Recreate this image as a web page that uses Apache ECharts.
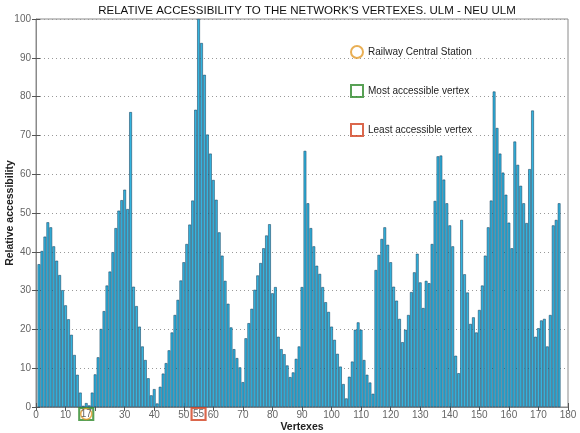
<!DOCTYPE html>
<html>
<head>
<meta charset="utf-8">
<script src="https://cdn.jsdelivr.net/npm/echarts@6/dist/echarts.min.js"></script>
<style>
  html, body { margin: 0; padding: 0; background: #fff; }
  #main { width: 580px; height: 433px; }
</style>
</head>
<body>
<div id="main"></div>
<script>
// relative accessibility of each vertex, vertex 1 .. 177
var accessibility = [
    36.8, 40.2, 43.9, 47.6, 46.3, 41.4, 37.7, 34.0, 30.1, 26.2,
    22.6, 18.6, 13.4, 8.3, 3.7, 0.3, 1.0, 0.4, 3.7, 8.4,
    12.8, 20.1, 24.7, 31.3, 34.9, 39.9, 46.1, 50.6, 53.3, 56.0,
    51.0, 76.0, 31.0, 26.0, 20.7, 15.6, 12.1, 7.4, 3.0, 4.6,
    0.9, 5.2, 8.6, 11.3, 14.6, 19.2, 23.7, 27.6, 32.6, 37.3,
    42.0, 47.0, 53.2, 76.6, 100.0, 93.8, 85.6, 70.2, 65.3, 58.5,
    53.4, 45.0, 39.0, 32.5, 26.6, 20.5, 14.9, 12.6, 10.2, 6.4,
    17.7, 21.6, 25.3, 30.2, 33.9, 37.1, 40.9, 44.2, 47.1, 29.3,
    30.9, 18.1, 14.9, 13.6, 10.7, 7.7, 8.9, 12.4, 15.6, 30.9,
    66.0, 52.5, 46.1, 41.4, 36.4, 34.3, 30.9, 27.0, 24.5, 20.7,
    17.3, 13.7, 10.4, 5.9, 2.2, 7.8, 11.7, 19.9, 21.8, 19.9,
    12.1, 8.3, 6.3, 3.4, 35.3, 39.2, 43.3, 46.3, 41.8, 37.3,
    31.0, 27.4, 22.7, 16.7, 19.9, 23.7, 29.6, 34.7, 39.5, 32.1,
    25.5, 32.5, 31.9, 42.0, 53.1, 64.6, 64.8, 58.6, 52.5, 46.8,
    41.4, 13.2, 8.7, 48.2, 34.2, 29.5, 21.4, 23.1, 19.2, 25.0,
    31.3, 39.0, 46.3, 53.2, 81.3, 71.9, 65.3, 60.4, 54.7, 47.5,
    40.9, 68.4, 62.4, 57.0, 52.5, 47.4, 61.3, 76.4, 18.1, 20.3,
    22.3, 22.7, 15.6, 23.7, 46.8, 48.2, 52.5
];
var stationVertex = 17;
var mostVertex = 17;
var leastVertex = 55;

var barData = accessibility.map(function (v, i) { return [i + 1, v]; });

var myChart = echarts.init(document.getElementById('main'));

var labelFont = 'Liberation Sans, Arial, sans-serif';

option = {
    animation: false,
    title: {
        text: "RELATIVE ACCESSIBILITY TO THE NETWORK'S VERTEXES. ULM - NEU ULM",
        left: 302,
        top: 0,
        textAlign: 'center',
        textStyle: { fontSize: 11.5, fontWeight: 'normal', color: '#111', fontFamily: labelFont }
    },
    legend: {
        orient: 'vertical',
        left: 345,
        top: 40,
        itemWidth: 12,
        itemHeight: 12,
        itemGap: 25,
        textStyle: { fontSize: 10, color: '#222', fontFamily: labelFont },
        data: [
            { name: 'Railway Central Station', icon: 'circle' },
            { name: 'Most accessible vertex', icon: 'rect' },
            { name: 'Least accessible vertex', icon: 'rect' }
        ]
    },
    grid: {
        left: 36,
        right: 12,
        top: 19,
        bottom: 26,
        containLabel: false,
        outerBoundsMode: 'none',
        show: true,
        borderColor: '#8a8a8a',
        borderWidth: 1
    },
    xAxis: [{
        type: 'value',
        min: 0,
        max: 180,
        interval: 10,
        name: 'Vertexes',
        nameLocation: 'middle',
        nameGap: 15,
        nameMoveOverlap: false,
        nameTextStyle: { fontSize: 10.5, fontWeight: 'bold', color: '#222', fontFamily: labelFont },
        axisLine: { lineStyle: { color: '#8a8a8a' } },
        axisTick: { inside: true, length: 4, lineStyle: { color: '#555' } },
        axisLabel: {
            color: '#666', fontSize: 10, margin: 3, fontFamily: labelFont,
            formatter: function (value) {
                return value === 20 ? '' : value;
            }
        },
        splitLine: { show: false }
    }, {
        type: 'value',
        position: 'top',
        min: 0,
        max: 180,
        interval: 10,
        axisLine: { show: false },
        axisTick: { inside: true, length: 4, lineStyle: { color: '#555' } },
        axisLabel: { show: false },
        splitLine: { show: false }
    }],
    yAxis: [{
        type: 'value',
        min: 0,
        max: 100,
        interval: 10,
        name: 'Relative accessibility',
        nameLocation: 'middle',
        nameGap: 20,
        nameMoveOverlap: false,
        nameTextStyle: { fontSize: 10.5, fontWeight: 'bold', color: '#222', fontFamily: labelFont },
        axisLine: { show: true, lineStyle: { color: '#8a8a8a' } },
        axisTick: { show: true, inside: true, length: 4, lineStyle: { color: '#555' } },
        axisLabel: { color: '#666', fontSize: 10, margin: 5, fontFamily: labelFont },
        splitLine: { show: true, lineStyle: { color: '#999', type: [1, 3] } }
    }, {
        type: 'value',
        position: 'right',
        min: 0,
        max: 100,
        interval: 10,
        axisLine: { show: false },
        axisTick: { show: true, inside: true, length: 4, lineStyle: { color: '#555' } },
        axisLabel: { show: false },
        splitLine: { show: false }
    }],
    series: [{
        name: 'Accessibility',
        type: 'bar',
        barWidth: 2.7,
        itemStyle: { color: '#33b4df', borderColor: '#0c3452', borderWidth: 0.5 },
        data: barData
    }, {
        name: 'Most accessible vertex',
        type: 'scatter',
        clip: false,
        symbol: 'rect',
        symbolSize: [14, 12],
        symbolOffset: [0, 7],
        itemStyle: { color: 'transparent', borderColor: '#2e8a2a', borderWidth: 2 },
        z: 5,
        data: [[mostVertex, 0]]
    }, {
        name: 'Railway Central Station',
        type: 'scatter',
        clip: false,
        symbol: 'circle',
        symbolSize: 11,
        symbolOffset: [0, 7],
        itemStyle: { color: 'transparent', borderColor: '#e39b2b', borderWidth: 1.5 },
        z: 6,
        data: [[stationVertex, 0]]
    }, {
        name: 'Least accessible vertex',
        type: 'scatter',
        clip: false,
        symbol: 'rect',
        symbolSize: [14, 12],
        symbolOffset: [0, 7],
        itemStyle: { color: 'transparent', borderColor: '#d2411f', borderWidth: 2 },
        z: 5,
        data: [[leastVertex, 0]]
    }]
};

myChart.setOption(option);

// vertex numbers written inside the two boxes below the axis
function boxLabel(vertex) {
    var p = myChart.convertToPixel({ xAxisIndex: 0, yAxisIndex: 0 }, [vertex, 0]);
    return {
        type: 'text',
        x: p[0],
        y: p[1] + 7,
        z: 100,
        style: {
            text: String(vertex),
            align: 'center',
            verticalAlign: 'middle',
            fill: '#666',
            fontSize: 10,
            fontFamily: labelFont
        }
    };
}
myChart.setOption({ graphic: [boxLabel(stationVertex), boxLabel(leastVertex)] });
</script>
</body>
</html>
